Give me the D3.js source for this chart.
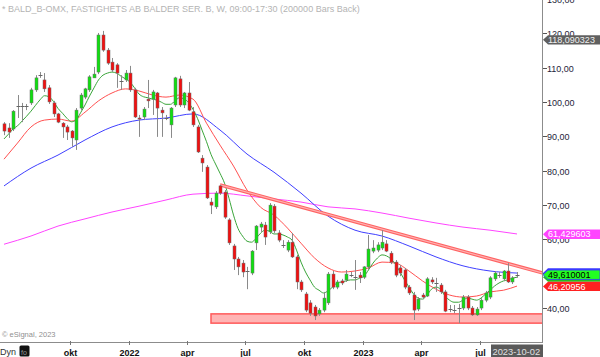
<!DOCTYPE html>
<html><head><meta charset="utf-8">
<script src="https://cdn.jsdelivr.net/npm/d3@7"></script>
<style>body{margin:0;background:#fff}svg{display:block;font-family:"Liberation Sans",Arial,sans-serif}</style>
</head><body><svg id="c" width="600" height="357"></svg>
<script>
// ---- data (weekly bars, first Monday and last Monday) ----
const firstWeek = "2021-06-21";
const lastWeek = "2023-08-28";
const openP = [93.6,92.4,92.1,98.8,98.8,98.7,99.7,103.5,107.8,106.4,104.1,99.7,96.5,93.8,92.7,91.5,88.9,98.2,101.4,103.5,107.0,108.7,119.5,115.1,111.6,110.8,106.1,106.4,108.4,103.5,95.3,95.6,100.8,100.8,102.6,97.6,95.3,93.3,99.1,106.7,99.1,102.6,97.1,92.7,83.6,81.0,70.8,69.4,75.5,73.7,65.6,58.0,54.2,53.0,50.7,50.1,58.9,63.5,64.1,62.1,69.6,61.8,58.3,56.8,59.1,54.8,47.5,44.0,41.4,40.2,38.2,39.3,41.4,49.8,46.0,47.8,48.1,49.5,48.9,49.5,48.9,51.9,56.5,56.8,57.4,58.6,55.9,53.3,51.6,51.0,46.0,43.7,39.6,43.7,43.4,48.1,47.2,46.6,44.6,39.6,39.3,39.9,39.9,43.1,39.9,37.9,39.9,42.2,43.1,48.4,49.5,48.4,50.7,47.5,49.5];
const highP = [94.1,93.8,97.6,102.0,99.7,99.4,104.1,107.8,108.7,108.4,104.9,100.3,96.8,94.1,93.3,91.8,98.2,102.6,104.1,107.8,110.2,120.1,120.7,115.7,112.8,111.3,107.8,109.3,110.5,104.1,96.2,98.5,106.4,103.5,102.9,98.5,96.2,98.5,107.3,107.6,102.9,105.8,98.5,93.3,84.5,81.6,72.0,74.0,75.8,74.3,66.1,58.6,54.8,53.9,51.9,56.8,64.1,65.0,65.0,70.5,70.2,62.6,59.7,59.7,61.8,55.4,48.1,44.6,42.2,40.8,39.9,44.6,50.4,50.7,48.1,48.4,51.0,50.4,53.9,50.4,52.1,61.2,59.7,59.1,62.6,59.7,56.5,53.9,52.4,51.6,46.6,44.6,43.1,44.3,48.9,48.9,48.7,47.2,45.2,40.8,40.8,41.1,43.7,43.7,40.5,40.2,42.8,44.9,49.2,50.7,50.4,51.0,53.0,49.2,50.4];
const lowP = [90.3,89.5,91.5,95.3,94.1,97.6,99.1,102.9,107.0,102.9,99.4,95.6,93.8,89.5,88.9,86.9,86.0,97.6,100.8,102.9,107.0,108.1,114.6,110.8,108.7,104.1,103.5,105.8,102.9,95.3,89.8,94.7,98.2,96.2,89.8,89.8,94.7,89.5,98.5,98.5,98.2,97.3,92.7,85.1,79.6,71.7,67.3,68.8,72.9,65.9,58.3,51.0,49.5,48.9,45.4,49.5,56.8,62.1,58.3,61.5,61.8,59.1,57.4,56.2,54.5,45.4,44.6,38.7,37.6,36.4,37.6,38.7,40.8,45.4,45.4,46.6,47.5,48.9,45.2,47.2,48.4,51.0,55.9,56.2,56.8,56.2,52.7,48.9,49.2,45.4,43.7,36.4,39.0,42.5,43.1,46.9,44.6,44.0,38.7,38.7,38.4,35.5,39.3,39.3,37.6,37.6,39.3,41.6,42.5,47.8,48.7,47.8,47.2,46.9,48.7];
const closeP = [91.5,91.2,97.3,98.9,98.7,98.9,103.5,107.0,107.9,103.8,100.0,96.5,94.1,92.7,91.2,89.5,97.6,102.0,103.8,107.3,108.1,119.5,115.1,111.3,109.3,108.4,106.0,108.4,103.5,95.6,95.0,97.9,100.3,102.9,98.2,96.8,95.2,98.2,107.0,99.1,102.6,97.6,93.3,85.4,82.2,72.0,69.9,73.4,73.4,66.4,58.9,54.2,51.9,50.4,50.6,56.5,63.8,64.4,60.6,69.9,62.4,59.7,58.2,59.1,54.8,47.5,45.2,39.3,38.4,37.6,39.3,42.8,49.8,46.0,47.5,47.2,49.8,49.6,49.0,48.7,51.9,57.1,57.4,58.3,59.1,56.5,53.3,49.5,50.1,46.0,44.3,39.3,42.5,43.1,48.4,47.5,47.1,44.6,39.0,39.7,39.2,39.8,43.1,39.9,37.9,39.6,42.2,44.3,48.7,50.1,49.6,50.7,47.5,48.7,49.6];

// moving averages (green: every bar, red: every 3rd bar, blue & magenta: every 6th bar)
const greenMA = [89.2,90.6,92.1,93.0,94.4,95.8,97.3,99.0,100.6,101.8,101.5,100.1,98.1,96.7,95.2,94.2,94.7,96.8,99.1,101.7,104.1,106.4,107.8,108.4,108.7,108.4,107.5,106.7,105.8,104.1,102.3,101.5,101.2,100.8,100.5,99.9,99.3,99.3,100.3,101.2,100.9,99.8,97.8,95.2,91.8,88.4,84.7,81.9,79.2,76.3,71.9,67.0,63.1,60.9,59.4,59.1,60.2,61.7,62.6,62.3,61.5,61.5,61.2,60.6,59.7,56.8,53.3,50.4,48.1,46.0,45.1,44.3,44.9,46.0,47.2,47.5,47.8,48.1,48.1,48.6,49.2,51.0,53.0,54.5,55.4,55.1,54.2,52.7,50.4,48.1,46.0,44.0,42.8,42.5,43.7,45.4,46.0,45.4,43.4,42.2,41.6,41.6,42.2,42.8,42.5,42.2,42.8,44.0,45.1,46.3,47.2,47.8,48.1,48.6,48.9];
const redMA = [83.3,88.0,92.7,94.7,95.0,94.4,97.0,100.3,102.6,103.8,103.2,102.0,101.4,102.0,100.8,93.8,87.4,81.3,74.3,69.3,67.0,63.2,58.8,54.5,51.6,50.4,50.7,51.6,53.3,53.0,50.7,47.8,45.4,43.7,43.1,43.4,44.6,45.1,46.3];
const blueMA = [75.5,80.7,84.5,88.9,92.7,94.7,95.3,96.5,91.8,84.8,79.5,73.4,66.7,62.6,60.9,58.0,54.8,52.2,50.7,50.1];
const magentaMA = [58.5,60.9,63.8,65.9,67.9,69.6,71.4,73.1,73.4,72.6,71.7,70.8,69.4,68.8,67.6,66.1,64.7,63.5,62.6,61.5];
const redStep = 3, blueStep = 6, magentaStep = 6;

// resistance trendline and support zone
const trendDates = ["2022-05-23", "2023-10-07"];
const trendValues = [75.8, 50.1];
const zoneStart = "2022-05-09";
const zoneValues = [38.2, 35.5];

// axes
const yTicks = [40,50,60,70,80,90,100,110,120,130];
const xTickDates = ["2021-10-01","2022-01-01","2022-04-01","2022-07-01","2022-10-01","2023-01-01","2023-04-01","2023-07-01"];
const xTickLabels = ["okt","2022","apr","jul","okt","2023","apr","jul"];

// price tags on the right axis
const tagValues = [118.090323, 61.429603, 50.1, 48.9, 49.610001, 46.20956];
const tagTexts  = ["118,090323", "61,429603", "", "", "49,610001", "46,20956"];
const tagFills  = ["#606060", "#ff44ff", "#3a3aff", "#20c020", "#22ff22", "#ff2020"];
const tagInk    = ["#f0f0f0", "#ffffff", "#ffffff", "#ffffff", "#000000", "#ffffff"];

const titleText = "* BALD_B-OMX, FASTIGHETS AB BALDER SER. B, W, 09:00-17:30 (200000 Bars Back)";
const dateTag = "2023-10-02";

// ---- drawing ----
const parse = d3.timeParse("%Y-%m-%d");
const weeks = d3.timeMonday.range(parse(firstWeek), d3.timeDay.offset(parse(lastWeek), 1));
const W = 600, H = 357, plotR = 542, plotB = 342;
const x = d3.scaleTime().domain([parse(firstWeek), parse(lastWeek)]).range([4, 517]);
const y = d3.scaleLinear().domain([40, 130]).range([307.7, -1]);

const svg = d3.select("#c");
svg.append("rect").attr("width", W).attr("height", H).attr("fill", "#fff");
svg.append("defs").append("clipPath").attr("id", "clip")
  .append("rect").attr("x", 0).attr("y", 0).attr("width", plotR).attr("height", plotB);

const plot = svg.append("g").attr("clip-path", "url(#clip)");

// support zone
plot.append("rect")
  .attr("x", x(parse(zoneStart)))
  .attr("y", y(zoneValues[0]))
  .attr("width", plotR + 2 - x(parse(zoneStart)))
  .attr("height", y(zoneValues[1]) - y(zoneValues[0]))
  .attr("fill", "#ffb4b4").attr("stroke", "#ff5a5a").attr("stroke-width", 1.5);

// moving averages
function maLine(vals, step, color) {
  const pts = vals.map((v, k) => ({d: weeks[k * step], v}));
  plot.append("path").datum(pts)
    .attr("fill", "none").attr("stroke", color).attr("stroke-width", 1)
    .attr("d", d3.line().x(p => x(p.d)).y(p => y(p.v)).curve(d3.curveMonotoneX));
}
maLine(magentaMA, magentaStep, "#ff44ff");
maLine(blueMA, blueStep, "#4040ff");
maLine(redMA, redStep, "#ff5050");
maLine(greenMA, 1, "#3aa53a");

// trendline (double-edged band)
const trendPts = trendDates.map((d, k) => ({d: parse(d), v: trendValues[k]}));
const trendGen = d3.line().x(p => x(p.d)).y(p => y(p.v));
plot.append("path").datum(trendPts)
  .attr("fill", "none").attr("stroke", "#ff6262").attr("stroke-width", 3.4)
  .attr("d", trendGen);
plot.append("path").datum(trendPts)
  .attr("fill", "none").attr("stroke", "#ffb0b0").attr("stroke-width", 1.2)
  .attr("d", trendGen);

// candles
const bars = weeks.map((d, i) => ({d, o: openP[i], h: highP[i], l: lowP[i], c: closeP[i]}));
const cg = plot.append("g");
bars.forEach(b => {
  const cx = Math.round(x(b.d));
  cg.append("line").attr("x1", cx + 0.5).attr("x2", cx + 0.5)
    .attr("y1", y(b.h)).attr("y2", y(b.l)).attr("stroke", "#8a8a8a").attr("stroke-width", 1);
  const diff = b.c - b.o;
  if (Math.abs(diff) < 0.25) {
    cg.append("line").attr("x1", cx - 1.5).attr("x2", cx + 2.5)
      .attr("y1", Math.round(y(b.c)) + 0.5).attr("y2", Math.round(y(b.c)) + 0.5)
      .attr("stroke", "#666").attr("stroke-width", 1);
  } else {
    const top = y(Math.max(b.o, b.c)), bot = y(Math.min(b.o, b.c));
    cg.append("rect").attr("x", cx - 1).attr("width", 3)
      .attr("y", top).attr("height", Math.max(1, bot - top))
      .attr("fill", diff > 0 ? "#10e010" : "#f21010")
      .attr("stroke", "#6a6a6a").attr("stroke-width", 0.5);
  }
});

// title & copyright
svg.append("text").attr("x", 2).attr("y", 11.5).attr("font-size", 9).attr("fill", "#b4b4b4").text(titleText);
svg.append("text").attr("x", 2).attr("y", 337).attr("font-size", 7.5).attr("fill", "#909090").text("© eSignal, 2023");

// right axis
svg.append("line").attr("x1", plotR + 0.5).attr("x2", plotR + 0.5).attr("y1", 0).attr("y2", plotB)
  .attr("stroke", "#8c8c8c").attr("stroke-width", 1);
const fmt = d3.formatLocale({decimal: ",", thousands: " ", grouping: [3], currency: ["", ""]}).format(".2f");
const ya = svg.append("g");
yTicks.forEach(t => {
  const yy = Math.round(y(t)) + 0.5;
  ya.append("line").attr("x1", plotR + 1).attr("x2", plotR + 5).attr("y1", yy).attr("y2", yy).attr("stroke", "#555");
  ya.append("text").attr("x", plotR + 5).attr("y", yy).attr("dy", "0.35em")
    .attr("font-size", 9).attr("fill", "#1e1e3a").text(fmt(t));
});

// bottom axis
svg.append("line").attr("x1", 0).attr("x2", plotR + 1).attr("y1", plotB + 0.5).attr("y2", plotB + 0.5)
  .attr("stroke", "#8c8c8c").attr("stroke-width", 1);
const xa = svg.append("g");
xTickDates.forEach((d, k) => {
  const xx = Math.round(x(parse(d))) + 0.5;
  xa.append("line").attr("x1", xx).attr("x2", xx).attr("y1", plotB - 1).attr("y2", plotB + 3).attr("stroke", "#777");
  xa.append("text").attr("x", xx).attr("y", 355.5).attr("text-anchor", "middle")
    .attr("font-size", 9).attr("font-weight", "bold").attr("fill", "#111").text(xTickLabels[k]);
});
svg.append("text").attr("x", 0).attr("y", 355).attr("font-size", 9).attr("fill", "#333").text("Dyn");
svg.append("rect").attr("x", 19.5).attr("y", 345.5).attr("width", 10).attr("height", 11).attr("rx", 1.5).attr("fill", "#111");
svg.append("text").attr("x", 21).attr("y", 354.5).attr("font-size", 7).attr("fill", "#999").text("fo");
// date tag
svg.append("rect").attr("x", 491).attr("y", 344.5).attr("width", plotR + 1 - 491).attr("height", 12.5).attr("fill", "#5a5a5a");
svg.append("text").attr("x", 492.5).attr("y", 354.5).attr("font-size", 9.3).attr("fill", "#e0e0e0").text(dateTag);

// price tags
tagValues.forEach((v, k) => {
  const yc = y(v), h = 4.7;
  svg.append("path")
    .attr("d", `M${plotR + 1},${yc}L${plotR + 6},${yc - h}L${W},${yc - h}L${W},${yc + h}L${plotR + 6},${yc + h}Z`)
    .attr("fill", tagFills[k])
    .attr("stroke", k === 4 ? "#3a3aff" : "none").attr("stroke-width", 0.8);
  if (tagTexts[k]) {
    svg.append("text").attr("x", plotR + 6).attr("y", yc).attr("dy", "0.36em")
      .attr("font-size", 9).attr("fill", tagInk[k]).text(tagTexts[k]);
  }
});
</script>
</body></html>
